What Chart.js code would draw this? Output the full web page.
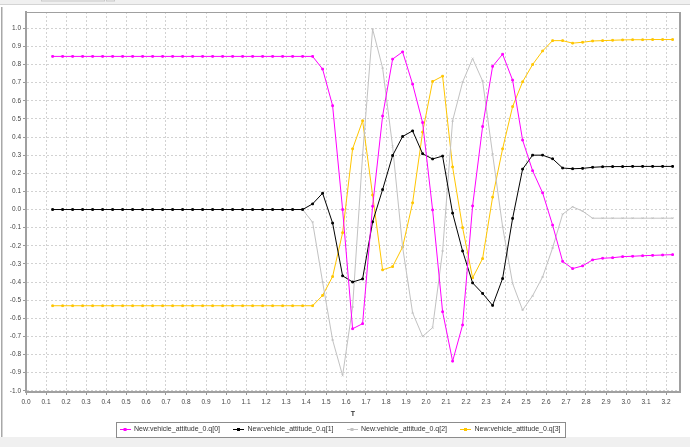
<!DOCTYPE html>
<html>
<head>
<meta charset="utf-8">
<script src="https://cdn.jsdelivr.net/npm/chart.js@4.4.1/dist/chart.umd.min.js"></script>
<style>
html, body { margin: 0; padding: 0; background: #fff; }
#wrap { position: relative; width: 690px; height: 447px; }
</style>
</head>
<body>
<div id="wrap"><canvas id="chart"></canvas></div>
<script>
// sample times (s)
const times = [0.133, 0.183, 0.233, 0.283, 0.333, 0.383, 0.433, 0.483, 0.533, 0.583,
  0.633, 0.683, 0.733, 0.783, 0.833, 0.883, 0.933, 0.983, 1.033, 1.083,
  1.133, 1.183, 1.233, 1.283, 1.333, 1.383, 1.433, 1.483, 1.533, 1.583,
  1.633, 1.683, 1.733, 1.783, 1.833, 1.883, 1.933, 1.983, 2.033, 2.083,
  2.133, 2.183, 2.233, 2.283, 2.333, 2.383, 2.433, 2.483, 2.533, 2.583,
  2.633, 2.683, 2.733, 2.783, 2.833, 2.883, 2.933, 2.983, 3.033, 3.083,
  3.133, 3.183, 3.233];

const seriesNames = ['New:vehicle_attitude_0.q[0]', 'New:vehicle_attitude_0.q[1]',
  'New:vehicle_attitude_0.q[2]', 'New:vehicle_attitude_0.q[3]'];

const q0 = [0.845, 0.845, 0.845, 0.845, 0.845, 0.845, 0.845, 0.845, 0.845, 0.845,
  0.845, 0.845, 0.845, 0.845, 0.845, 0.845, 0.845, 0.845, 0.845, 0.845,
  0.845, 0.845, 0.845, 0.845, 0.845, 0.845, 0.845, 0.775, 0.573, 0.0,
  -0.658, -0.63, 0.018, 0.516, 0.83, 0.87, 0.692, 0.48, -0.002, -0.564,
  -0.837, -0.637, 0.02, 0.458, 0.79, 0.857, 0.714, 0.383, 0.214, 0.092,
  -0.086, -0.286, -0.326, -0.311, -0.278, -0.269, -0.266, -0.26, -0.258, -0.255,
  -0.253, -0.251, -0.249];

const q1 = [0, 0, 0, 0, 0, 0, 0, 0, 0, 0,
  0, 0, 0, 0, 0, 0, 0, 0, 0, 0,
  0, 0, 0, 0, 0, 0, 0.031, 0.09, -0.075, -0.366,
  -0.4, -0.383, -0.068, 0.11, 0.298, 0.403, 0.434, 0.308, 0.279, 0.295,
  -0.02, -0.229, -0.405, -0.463, -0.529, -0.381, -0.049, 0.223, 0.3, 0.3,
  0.28, 0.229, 0.225, 0.227, 0.233, 0.236, 0.237, 0.237, 0.238, 0.238,
  0.238, 0.238, 0.238];

const q2 = [0, 0, 0, 0, 0, 0, 0, 0, 0, 0,
  0, 0, 0, 0, 0, 0, 0, 0, 0, 0,
  0, 0, 0, 0, 0, 0, -0.07, -0.4, -0.72, -0.916,
  -0.538, 0.3, 0.996, 0.782, 0.348, -0.207, -0.57, -0.7, -0.652, -0.229,
  0.49, 0.703, 0.833, 0.709, 0.306, -0.095, -0.408, -0.555, -0.476, -0.372,
  -0.212, -0.026, 0.015, -0.009, -0.048, -0.048, -0.048, -0.048, -0.048, -0.048,
  -0.048, -0.048, -0.048];

const q3 = [-0.531, -0.531, -0.531, -0.531, -0.531, -0.531, -0.531, -0.531, -0.531, -0.531,
  -0.531, -0.531, -0.531, -0.531, -0.531, -0.531, -0.531, -0.531, -0.531, -0.531,
  -0.531, -0.531, -0.531, -0.531, -0.531, -0.531, -0.531, -0.474, -0.37, -0.128,
  0.335, 0.49, 0.08, -0.333, -0.315, -0.207, 0.037, 0.427, 0.707, 0.736,
  0.235, -0.1, -0.377, -0.271, 0.068, 0.335, 0.568, 0.705, 0.8, 0.875,
  0.932, 0.932, 0.918, 0.923, 0.93, 0.932, 0.934, 0.936, 0.937, 0.937,
  0.938, 0.938, 0.938];

const xAxisTitle = 'T';

function toPoints(values) {
  return times.map((t, i) => ({ x: t, y: values[i] }));
}

// keep only ticks on the 0.1 grid and inside the axis range
function keepTenths(scale) {
  const lo = scale.options.min, hi = scale.options.max;
  scale.ticks = scale.ticks.filter(t =>
    Math.abs(t.value * 10 - Math.round(t.value * 10)) < 1e-6 &&
    t.value >= lo - 1e-9 && t.value <= hi + 1e-9);
}
function fmtTenth(v) {
  const r = Math.round(v * 10) / 10;
  return (Math.abs(r) < 1e-9 ? 0 : r).toFixed(1);
}

// legend swatch: short line with a tiny marker in the middle
function swatch(color) {
  const c = document.createElement('canvas');
  c.width = 11; c.height = 5;
  const g = c.getContext('2d');
  g.fillStyle = color;
  g.fillRect(0, 2, 11, 1);
  g.fillRect(4, 1, 3, 3);
  return c;
}

// panel decorations, plot outline and legend frame
const framePlugin = {
  id: 'frame',
  beforeDraw(chart) {
    const ctx = chart.ctx;
    ctx.save();
    ctx.fillStyle = '#ffffff';
    ctx.fillRect(0, 0, chart.width, chart.height);
    ctx.fillStyle = '#f0f0f0';
    ctx.fillRect(0, 0, chart.width, 4);
    ctx.fillStyle = '#d4d4d4';
    ctx.fillRect(0, 4, chart.width, 1);
    ctx.strokeStyle = '#c8c8c8';
    ctx.lineWidth = 1;
    ctx.strokeRect(41.5, -2, 63, 3);
    ctx.strokeRect(106.5, -2, 8, 3);
    ctx.fillStyle = '#f0f0f0';
    ctx.fillRect(0, 437, chart.width, 10);
    ctx.fillStyle = '#a8a8a8';
    ctx.fillRect(1, 7, 1.5, 430);
    ctx.restore();
  },
  afterDraw(chart) {
    const ctx = chart.ctx;
    const a = chart.chartArea;
    ctx.save();
    ctx.strokeStyle = '#a0a0a0';
    ctx.lineWidth = 1;
    ctx.beginPath();
    ctx.moveTo(a.left, a.top + 0.5);
    ctx.lineTo(a.right, a.top + 0.5);
    ctx.stroke();
    ctx.lineWidth = 2;
    ctx.beginPath();
    ctx.moveTo(a.right, a.top);
    ctx.lineTo(a.right, a.bottom);
    ctx.stroke();
    const boxes = chart.legend && chart.legend.legendHitBoxes;
    if (boxes && boxes.length) {
      let l = Infinity, r = -Infinity, t = Infinity, b = -Infinity;
      boxes.forEach(h => {
        l = Math.min(l, h.left); r = Math.max(r, h.left + h.width);
        t = Math.min(t, h.top); b = Math.max(b, h.top + h.height);
      });
      ctx.lineWidth = 1;
      ctx.strokeStyle = '#8c8c8c';
      ctx.strokeRect(Math.round(l - 4) + 0.5, Math.round(t - 4) + 0.5, Math.round(r - l + 8), Math.round(b - t + 8));
    }
    ctx.restore();
  }
};

const lineStyle = (color, pointStyle) => ({
  borderColor: color,
  backgroundColor: color,
  borderWidth: 1,
  pointRadius: 1.2,
  pointHoverRadius: 1.5,
  pointStyle: pointStyle,
  pointBorderWidth: 1,
  tension: 0,
  fill: false
});

new Chart(document.getElementById('chart'), {
  type: 'line',
  data: {
    datasets: [
      { label: seriesNames[0], data: toPoints(q0), ...lineStyle('#ff00ff', 'rect') },
      { label: seriesNames[1], data: toPoints(q1), ...lineStyle('#000000', 'rect') },
      { label: seriesNames[2], data: toPoints(q2), ...lineStyle('#c2c2c2', 'crossRot') },
      { label: seriesNames[3], data: toPoints(q3), ...lineStyle('#ffc600', 'rect') }
    ]
  },
  options: {
    responsive: true,
    maintainAspectRatio: false,
    animation: false,
    layout: { padding: { left: 0, right: 10, top: 12, bottom: 4 } },
    plugins: {
      tooltip: { enabled: false },
      legend: {
        position: 'bottom',
        labels: {
          usePointStyle: true,
          pointStyleWidth: 11,
          padding: 13,
          color: '#333',
          font: { family: 'Liberation Sans, Arial, sans-serif', size: 7 },
          generateLabels(chart) {
            const items = Chart.defaults.plugins.legend.labels.generateLabels(chart);
            items.forEach(it => { it.pointStyle = swatch(it.strokeStyle); });
            return items;
          }
        }
      }
    },
    scales: {
      x: {
        type: 'linear',
        min: 0,
        max: 3.27,
        afterBuildTicks: keepTenths,
        afterFit(scale) { scale.height = 21; },
        ticks: {
          stepSize: 0.1,
          includeBounds: false,
          autoSkip: false,
          maxRotation: 0,
          padding: 3,
          color: '#444',
          font: { family: 'Liberation Sans, Arial, sans-serif', size: 6.5 },
          callback: v => fmtTenth(v)
        },
        grid: {
          color: '#d2d2d2',
          tickLength: 3,
          tickColor: '#999',
          tickBorderDash: []
        },
        border: { display: true, color: '#a0a0a0', width: 2, dash: [2, 2] },
        title: {
          display: true,
          text: xAxisTitle,
          color: '#333',
          padding: { top: 0, bottom: -5 },
          font: { family: 'Liberation Sans, Arial, sans-serif', size: 7, weight: 'bold' }
        }
      },
      y: {
        type: 'linear',
        min: -1.007,
        max: 1.09,
        afterBuildTicks: keepTenths,
        afterFit(scale) { scale.width = 26; },
        ticks: {
          stepSize: 0.1,
          includeBounds: false,
          autoSkip: false,
          padding: 2,
          color: '#444',
          font: { family: 'Liberation Sans, Arial, sans-serif', size: 6.5 },
          callback: v => fmtTenth(v)
        },
        grid: {
          color: '#d2d2d2',
          tickLength: 3,
          tickColor: '#999',
          tickBorderDash: []
        },
        border: { display: true, color: '#a0a0a0', width: 2, dash: [2, 2] }
      }
    }
  },
  plugins: [framePlugin]
});
</script>
</body>
</html>
